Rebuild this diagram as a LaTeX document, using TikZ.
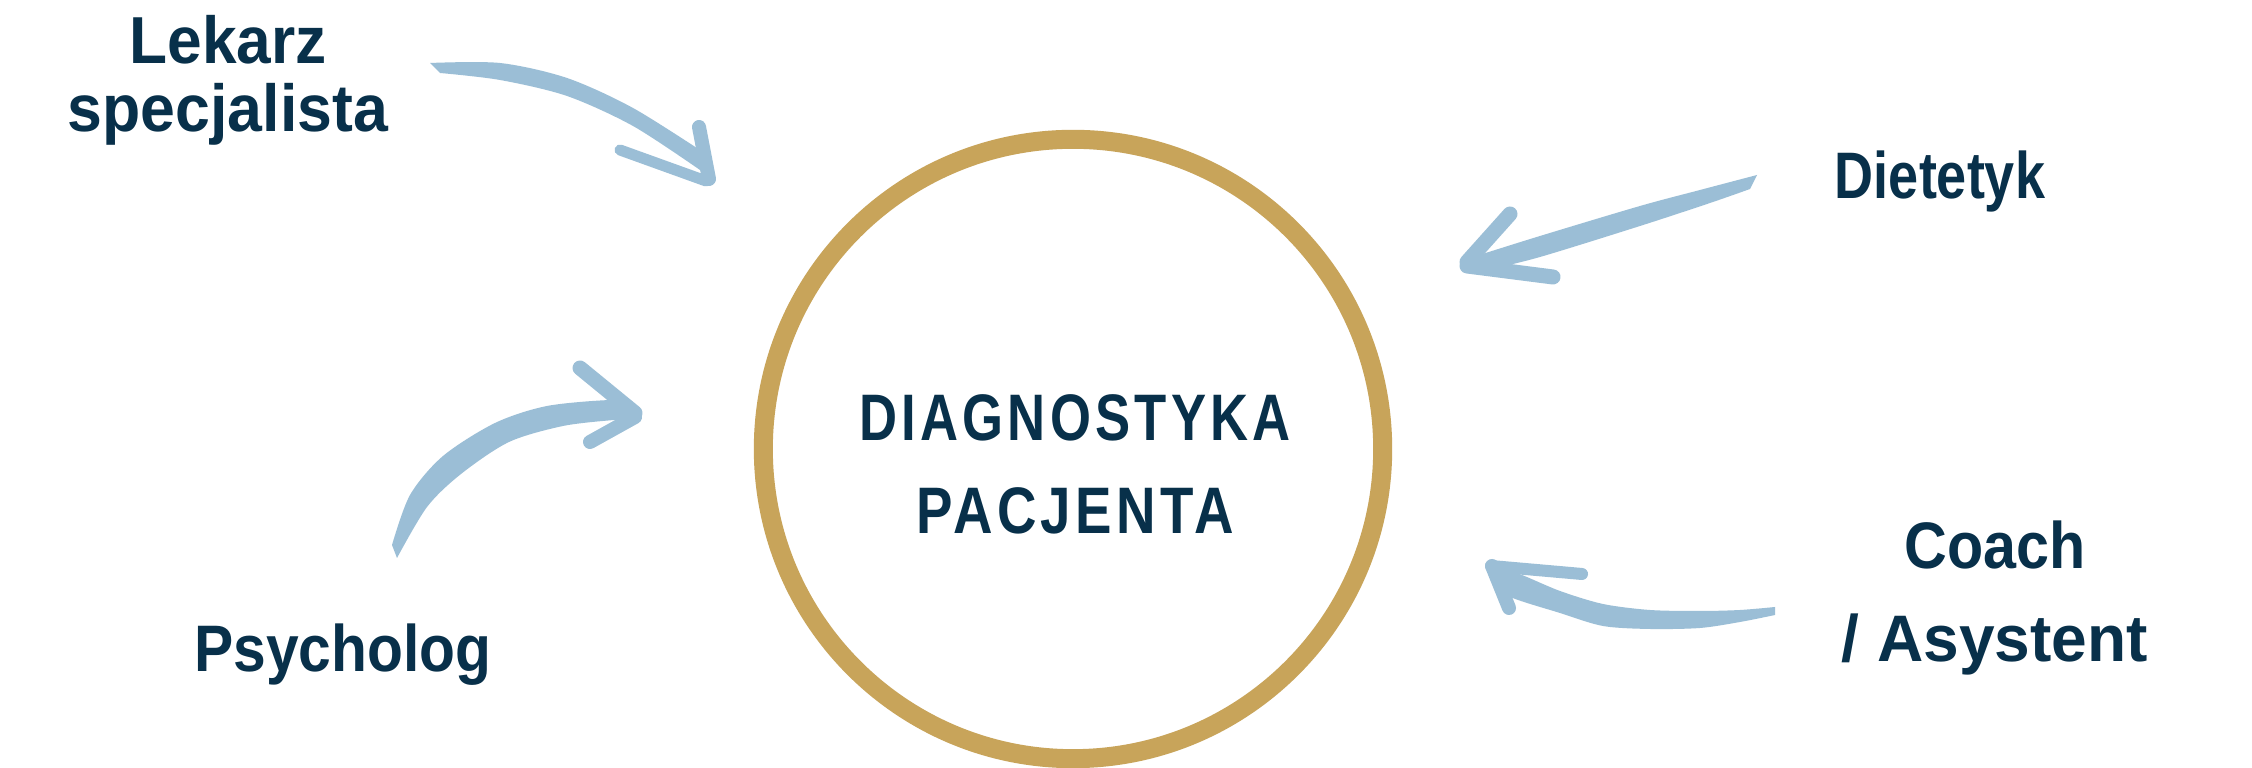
\documentclass[tikz,border=0pt]{standalone}
\usepackage{fontspec}
\usepackage{graphicx}
\newfontfamily\lblfont{Liberation Sans}[UprightFont={* Bold}]
\newfontfamily\ctrfont{Liberation Sans}[UprightFont={* Bold}, LetterSpace=8]
\newcommand{\fitw}[2]{\resizebox{#1}{\height}{#2}}
\definecolor{navy}{HTML}{08304A}
\definecolor{gold}{HTML}{C8A45A}
\definecolor{arrowblue}{HTML}{9BBED6}
\tikzset{
  lbl/.style={text=navy, inner sep=0pt, align=center, anchor=base},
  brush/.style={fill=arrowblue},
  stroke/.style={draw=arrowblue, line cap=round, line join=round},
}
\begin{document}
\begin{tikzpicture}[x=0.01cm,y=-0.01cm]
\fill[white] (0,0) rectangle (2252,768);
\useasboundingbox (0,0) rectangle (2252,768);

% centre circle
\node[circle, draw=gold, line width=0.19cm, minimum size=6.19cm, inner sep=0pt] (diag) at (1073,449) {};
\node[lbl, font=\ctrfont\fontsize{18.7pt}{26.5pt}\selectfont] (diagtxt) at (1075,534)
  {\fitw{4.31cm}{DIAGNOSTYKA}\\\fitw{3.17cm}{PACJENTA}};

% labels
\node[lbl, font=\lblfont\fontsize{18.9pt}{19.6pt}\selectfont] (lekarz) at (228,132)
  {\fitw{1.97cm}{Lekarz}\\\fitw{3.20cm}{specjalista}};
\node[lbl, font=\lblfont\fontsize{18.7pt}{20pt}\selectfont] (dietetyk) at (1940,199)
  {\fitw{2.10cm}{Dietetyk}};
\node[lbl, font=\lblfont\fontsize{18.7pt}{26.5pt}\selectfont] (coach) at (1995,662)
  {\fitw{1.81cm}{Coach}\\\fitw{3.06cm}{/ Asystent}};
\node[lbl, font=\lblfont\fontsize{18.7pt}{20pt}\selectfont] (psycholog) at (343,672)
  {\fitw{2.97cm}{Psycholog}};

% arrow: Lekarz specjalista
\fill[brush] plot[smooth] coordinates {(430,63) (500,63) (567,78) (633,108) (706,154)}
  -- plot[smooth] coordinates {(700,170) (633,126) (567,96) (500,80) (440,73)} -- cycle;
\draw[stroke, line width=0.14cm] (699,127) -- (709,179);
\draw[stroke, line width=0.11cm] (620,150) -- (706,181);

% arrow: Dietetyk
\fill[brush] plot[smooth] coordinates {(1757,175) (1700,190) (1640,206) (1540,236) (1473,257)}
  -- plot[smooth] coordinates {(1487,270) (1540,257) (1640,226) (1710,203) (1750,189)} -- cycle;
\draw[stroke, line width=0.15cm] (1510,214) -- (1467,262);
\draw[stroke, line width=0.15cm] (1467,266) -- (1553,277);

% arrow: Coach / Asystent
\fill[brush] plot[smooth] coordinates {(1500,568) (1522,575) (1560,591) (1603,604) (1650,610) (1700,611) (1740,610) (1775,607)}
  -- plot[smooth] coordinates {(1775,615) (1740,622) (1700,628) (1650,629) (1603,626) (1560,613) (1508,596) (1496,580)} -- cycle;
\draw[stroke, line width=0.12cm] (1491,566) -- (1582,574);
\draw[stroke, line width=0.14cm] (1492,566) -- (1509,608);

% arrow: Psycholog
\fill[brush] plot[smooth] coordinates {(392,545) (410,495) (443,456) (495,423) (547,406) (612,400) (628,405)}
  -- plot[smooth] coordinates {(628,420) (614,420) (563,426) (509,442) (461,474) (427,507) (397,558)} -- cycle;
\draw[stroke, line width=0.15cm] (580,368) -- (635,413);
\draw[stroke, line width=0.14cm] (635,417) -- (590,442);
\end{tikzpicture}
\end{document}
